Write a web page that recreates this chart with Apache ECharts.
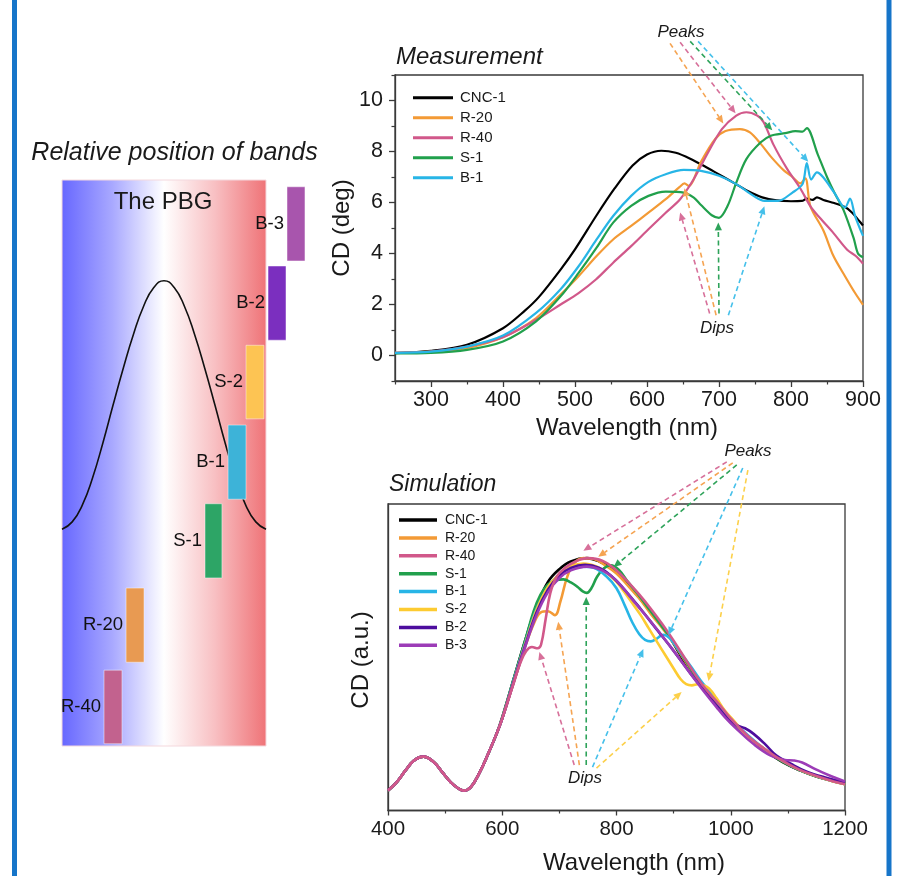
<!DOCTYPE html>
<html>
<head>
<meta charset="utf-8">
<script src="https://cdn.jsdelivr.net/npm/echarts@6/dist/echarts.min.js"></script>
<style>html,body{margin:0;padding:0;background:#fff}#c{width:900px;height:876px}</style>
</head>
<body>
<div id="c"></div>
<script>
// ---------- Left panel: relative band positions ----------
const pbgX = [0,0.05,0.1,0.15,0.2,0.25,0.3,0.35,0.4,0.45,0.5,0.55,0.6,0.65,0.7,0.75,0.8,0.85,0.9,0.95,1.0];
const pbgY = [0.383,0.396,0.426,0.474,0.535,0.602,0.667,0.727,0.777,0.810,0.822,0.810,0.777,0.727,0.667,0.602,0.535,0.474,0.426,0.396,0.383];
const bandNames  = ['R-40','R-20','S-1','B-1','S-2','B-2','B-3'];
const bandLeft   = [0.206,0.314,0.701,0.814,0.902,1.010,1.103];
const bandRight  = [0.294,0.402,0.784,0.902,0.990,1.098,1.191];
const bandBottom = [0.004,0.148,0.297,0.436,0.578,0.717,0.857];
const bandTop    = [0.134,0.279,0.428,0.567,0.708,0.848,0.988];

// ---------- Measurement (top right) ----------
const measNames = ['CNC-1','R-20','R-40','S-1','B-1'];
const measCNC1 = [[250,0.09],[300,0.18],[350,0.42],[400,1.07],[430,1.75],[450,2.3],[480,3.37],[500,4.16],[530,5.5],[555,6.55],[580,7.45],[600,7.88],[620,8.03],[640,7.95],[660,7.72],[680,7.42],[700,7.1],[720,6.78],[740,6.45],[760,6.2],[780,6.08],[800,6.05],[815,6.06],[822,6.15],[830,6.1],[836,6.2],[845,6.1],[860,5.98],[875,5.82],[885,5.6],[894,5.3],[900,5.1]];
const measR20 = [[250,0.1],[300,0.15],[350,0.3],[400,0.72],[446,1.47],[480,2.39],[505,3.11],[530,3.9],[553,4.55],[578,5.08],[602,5.6],[626,6.13],[645,6.6],[652,6.75],[658,6.65],[675,7.6],[695,8.5],[709,8.8],[729,8.88],[743,8.75],[758,8.3],[772,7.8],[790,7.26],[802,7.0],[813,6.75],[820,6.95],[827,5.85],[845,4.9],[859,3.9],[875,3.11],[889,2.45],[900,1.99]];
const measR40 = [[250,0.1],[300,0.15],[350,0.35],[400,0.72],[446,1.4],[480,2.0],[505,2.45],[529,2.98],[553,3.64],[578,4.29],[602,4.95],[626,5.6],[646,6.13],[665,6.92],[685,7.97],[704,8.88],[724,9.41],[738,9.54],[753,9.41],[762,9.15],[776,8.25],[795,7.3],[813,6.55],[827,5.85],[840,5.4],[859,4.8],[878,4.15],[890,3.9],[900,3.6]];
const measS1 = [[250,0.08],[300,0.1],[350,0.22],[400,0.55],[446,1.34],[480,2.32],[505,3.24],[530,4.23],[553,5.21],[578,5.87],[602,6.26],[626,6.43],[651,6.39],[665,6.19],[675,5.9],[690,5.5],[700,5.4],[712,5.87],[724,6.78],[738,7.7],[758,8.36],[772,8.62],[792,8.72],[806,8.8],[816,8.78],[822,8.92],[837,7.9],[850,7.0],[860,6.4],[873,5.7],[887,4.6],[893,4.0],[900,3.85]];
const measB1 = [[250,0.1],[300,0.15],[350,0.35],[400,0.78],[446,1.67],[480,2.6],[505,3.5],[530,4.55],[553,5.47],[578,6.26],[602,6.81],[626,7.11],[651,7.28],[675,7.24],[700,7.05],[724,6.72],[748,6.26],[763,6.06],[782,6.06],[802,6.39],[816,6.72],[822,7.55],[828,6.9],[836,7.18],[845,6.98],[860,6.39],[875,5.8],[882,6.15],[889,5.47],[900,4.69]];
const measXLabels = [300,400,500,600,700,800,900];
const measXMinor  = [250,350,450,550,650,750,850];
const measYLabels = [0,2,4,6,8,10];
const measYMinor  = [-1,1,3,5,7,9,11];
// annotation arrows (from -> to, data units)
const measArrowName = ['R-20','R-40','S-1','B-1','R-40','R-20','S-1','B-1'];
const measArrowX0 = [632,646,660,671,687,696,700,713];
const measArrowY0 = [12.24,12.28,12.32,12.32,1.65,1.58,1.65,1.58];
const measArrowX1 = [706,723,774,824,646,652,699,763];
const measArrowY1 = [9.1,9.5,8.83,7.6,5.61,6.56,5.22,5.85];

// ---------- Simulation (bottom right) ----------
const simNames = ['CNC-1','R-20','R-40','S-1','B-1','S-2','B-2','B-3'];
const simLow = [[400,0.078],[415,0.11],[430,0.155],[445,0.195],[462,0.211],[480,0.19],[495,0.15],[510,0.11],[522,0.088],[532,0.078],[545,0.092],[560,0.147],[575,0.22],[590,0.30]];
const simCNC1 = [[600,0.365],[620,0.515],[640,0.665],[660,0.80],[680,0.895],[700,0.945],[720,0.975],[748,0.988],[770,0.975],[790,0.95],[810,0.91],[830,0.86],[850,0.805],[870,0.75],[890,0.69],[910,0.615],[930,0.54],[950,0.48],[970,0.43],[1000,0.35],[1030,0.285],[1060,0.235],[1090,0.19],[1120,0.158],[1150,0.133],[1180,0.115],[1200,0.105]];
const simR20 = [[600,0.36],[620,0.50],[640,0.64],[655,0.73],[667,0.775],[680,0.78],[692,0.765],[702,0.82],[713,0.91],[725,0.965],[742,0.988],[760,0.985],[780,0.96],[800,0.928],[820,0.88],[840,0.83],[860,0.77],[880,0.715],[900,0.655],[920,0.585],[940,0.515],[960,0.46],[980,0.41],[1000,0.355],[1030,0.29],[1060,0.238],[1090,0.193],[1120,0.16],[1150,0.135],[1180,0.115],[1200,0.104]];
const simR40 = [[600,0.36],[620,0.50],[632,0.58],[642,0.625],[652,0.64],[662,0.635],[668,0.65],[676,0.75],[684,0.85],[695,0.915],[710,0.95],[728,0.975],[750,0.988],[775,0.978],[800,0.94],[820,0.895],[840,0.845],[860,0.79],[880,0.73],[900,0.665],[920,0.595],[940,0.525],[960,0.465],[980,0.415],[1000,0.36],[1030,0.292],[1060,0.24],[1090,0.195],[1120,0.16],[1150,0.135],[1180,0.114],[1200,0.103]];
const simS1 = [[600,0.365],[620,0.515],[640,0.665],[655,0.78],[667,0.845],[680,0.885],[692,0.9],[707,0.905],[720,0.893],[732,0.875],[741,0.858],[748,0.852],[756,0.87],[766,0.915],[778,0.948],[790,0.96],[805,0.94],[820,0.895],[840,0.84],[860,0.78],[880,0.72],[900,0.66],[920,0.59],[940,0.52],[960,0.465],[980,0.415],[1000,0.357],[1030,0.29],[1060,0.237],[1090,0.192],[1120,0.158],[1150,0.133],[1180,0.114],[1200,0.103]];
const simB1 = [[600,0.36],[620,0.51],[640,0.655],[660,0.79],[680,0.875],[700,0.925],[720,0.948],[742,0.955],[760,0.95],[783,0.915],[800,0.87],[815,0.8],[828,0.735],[840,0.69],[850,0.668],[860,0.662],[870,0.672],[882,0.688],[893,0.675],[905,0.64],[918,0.6],[930,0.565],[947,0.51],[965,0.46],[985,0.40],[1000,0.36],[1030,0.295],[1060,0.24],[1090,0.195],[1120,0.16],[1150,0.135],[1180,0.115],[1200,0.104]];
const simS2 = [[600,0.36],[620,0.505],[640,0.65],[660,0.785],[680,0.875],[700,0.925],[720,0.955],[742,0.967],[765,0.955],[783,0.93],[800,0.895],[812,0.86],[825,0.82],[842,0.766],[856,0.715],[871,0.66],[885,0.61],[900,0.556],[912,0.515],[922,0.495],[932,0.49],[942,0.494],[952,0.49],[962,0.478],[975,0.44],[990,0.39],[1006,0.35],[1029,0.29],[1060,0.24],[1090,0.196],[1120,0.16],[1150,0.135],[1180,0.114],[1200,0.103]];
const simB2 = [[600,0.36],[620,0.505],[640,0.645],[660,0.775],[680,0.865],[700,0.92],[720,0.95],[745,0.962],[770,0.95],[790,0.92],[810,0.875],[842,0.79],[870,0.71],[900,0.625],[930,0.535],[959,0.455],[985,0.385],[1000,0.35],[1012,0.332],[1025,0.322],[1040,0.30],[1060,0.26],[1080,0.215],[1105,0.183],[1130,0.155],[1164,0.13],[1200,0.11]];
const simB3 = [[600,0.36],[620,0.50],[640,0.64],[660,0.765],[680,0.855],[700,0.91],[720,0.94],[748,0.955],[775,0.94],[800,0.9],[830,0.82],[860,0.74],[890,0.655],[920,0.565],[950,0.475],[975,0.405],[990,0.365],[1010,0.32],[1040,0.26],[1070,0.215],[1095,0.198],[1110,0.196],[1125,0.188],[1150,0.16],[1175,0.135],[1200,0.114]];
const simXLabels = [400,600,800,1000,1200];
const simArrowName = ['R-40','R-20','S-1','B-1','S-2','R-40','R-20','S-1','B-1','S-2'];
const simArrowX0 = [993,1003.5,1010.5,1021,1030,726,735,747,758,765];
const simArrowY0 = [1.365,1.361,1.353,1.341,1.333,0.178,0.178,0.178,0.17,0.166];
const simArrowX1 = [742,768,795,891,961,665,698,747,847,914];
const simArrowY1 = [1.017,0.993,0.953,0.687,0.507,0.621,0.739,0.836,0.632,0.464];

// ---------- styles ----------
const FONT = '"Liberation Sans", Arial, Helvetica, sans-serif';
const lineColor = {'CNC-1':'#000000','R-20':'#f39a35','R-40':'#d1588a','S-1':'#21a04c','B-1':'#27b5e6','S-2':'#fdcb31','B-2':'#4d0d9e','B-3':'#9c3cb7'};
const arrowColor = {'R-20':'#f5a452','R-40':'#d7709a','S-1':'#2ea35a','B-1':'#45c0ea','S-2':'#fcd04a'};
const bandColor = {'R-40':'#c2628e','R-20':'#e89a52','S-1':'#2da566','B-1':'#3db3d8','S-2':'#fdc453','B-2':'#7b2fbf','B-3':'#a855ad'};
const axisCol = '#3a3a3a';

const chart = echarts.init(document.getElementById('c'), null, {renderer:'canvas', width:900, height:876});

function arrowRender(names) {
  return function(params, api) {
    const a = api.coord([api.value(0), api.value(1)]);
    const b = api.coord([api.value(2), api.value(3)]);
    const col = arrowColor[names[params.dataIndex]];
    const dx = b[0]-a[0], dy = b[1]-a[1], L = Math.hypot(dx, dy);
    const ux = dx/L, uy = dy/L, hl = 8, hw = 3.6;
    const bx = b[0]-ux*hl, by = b[1]-uy*hl;
    return {type:'group', children:[
      {type:'line', shape:{x1:a[0], y1:a[1], x2:bx, y2:by}, style:{stroke:col, lineWidth:1.6, lineDash:[5,3.5]}},
      {type:'polygon', shape:{points:[[b[0],b[1]],[bx-uy*hw, by+ux*hw],[bx+uy*hw, by-ux*hw]]}, style:{fill:col}}
    ]};
  };
}

const measSeriesData = [measCNC1, measR20, measR40, measS1, measB1];
const simSeriesData = [simLow.concat(simCNC1), simLow.concat(simR20), simLow.concat(simR40), simLow.concat(simS1),
                       simLow.concat(simB1), simLow.concat(simS2), simLow.concat(simB2), simLow.concat(simB3)];

const series = [];
series.push({type:'line', xAxisIndex:0, yAxisIndex:0, data:pbgX.map((x,i)=>[x,pbgY[i]]), smooth:0.5, symbol:'none',
  lineStyle:{color:'#111', width:1.6}, silent:true, z:2});
series.push({type:'custom', xAxisIndex:0, yAxisIndex:0, clip:false, z:3,
  data: bandNames.map((n,i)=>[bandLeft[i], bandRight[i], bandBottom[i], bandTop[i]]),
  encode:{x:[0,1], y:[2,3]},
  renderItem:function(params, api){
    const n = bandNames[params.dataIndex];
    const p0 = api.coord([api.value(0), api.value(3)]);
    const p1 = api.coord([api.value(1), api.value(2)]);
    return {type:'group', children:[
      {type:'rect', shape:{x:p0[0], y:p0[1], width:p1[0]-p0[0], height:p1[1]-p0[1]}, style:{fill:bandColor[n], stroke:'rgba(255,255,255,0.45)', lineWidth:1}},
      {type:'text', style:{text:n, x:p0[0]-3, y:(p0[1]+p1[1])/2, align:'right', verticalAlign:'middle', font:'18.5px '+FONT, fill:'#111'}}
    ]};
  }});
measNames.forEach((n,i)=>{
  series.push({type:'line', name:n, xAxisIndex:1, yAxisIndex:1, data:measSeriesData[i], smooth:0.3, symbol:'none', showSymbol:false,
    lineStyle:{color:lineColor[n], width:2.2}, itemStyle:{color:lineColor[n]}, z:4});
});
series.push({type:'custom', xAxisIndex:1, yAxisIndex:1, clip:false, z:6,
  data: measArrowName.map((n,i)=>[measArrowX0[i], measArrowY0[i], measArrowX1[i], measArrowY1[i]]),
  encode:{x:[0,2], y:[1,3]}, renderItem: arrowRender(measArrowName)});
simNames.forEach((n,i)=>{
  series.push({type:'line', name:n+' (sim)', xAxisIndex:3, yAxisIndex:3, data:simSeriesData[i], smooth:0.4, symbol:'none', showSymbol:false,
    lineStyle:{color:lineColor[n], width:2.6}, itemStyle:{color:lineColor[n]}, z:(n==='R-40'?5:4)});
});
series.push({type:'custom', xAxisIndex:3, yAxisIndex:3, clip:false, z:6,
  data: simArrowName.map((n,i)=>[simArrowX0[i], simArrowY0[i], simArrowX1[i], simArrowY1[i]]),
  encode:{x:[0,2], y:[1,3]}, renderItem: arrowRender(simArrowName)});

function txt(text, x, y, size, opts) {
  opts = opts || {};
  return {type:'text', x:x, y:y, rotation:opts.rot||0, z:50,
    style:{text:text, x:0, y:0, align:opts.align||'center', verticalAlign:'middle',
      font:(opts.italic?'italic ':'')+size+'px '+FONT, fill:opts.fill||'#1a1a1a'}};
}

const option = {
  animation:false,
  backgroundColor:'#ffffff',
  grid:[
    {left:62, top:180, width:204, height:566, show:true, borderWidth:1, borderColor:'#f4d8dd',
     backgroundColor:{type:'linear', x:0, y:0, x2:1, y2:0, colorStops:[
       {offset:0, color:'#6767ff'},{offset:0.25, color:'#a9a9ff'},{offset:0.5, color:'#ffffff'},{offset:0.75, color:'#f8bfc2'},{offset:1, color:'#ef7377'}]}},
    {left:395, top:75, width:468, height:306, show:true, borderWidth:1.3, borderColor:axisCol},
    {left:388, top:504, width:457, height:306.5, show:true, borderWidth:1.3, borderColor:axisCol}
  ],
  xAxis:[
    {gridIndex:0, type:'value', min:0, max:1, show:false},
    {gridIndex:1, type:'value', min:250, max:900, interval:50, position:'bottom',
     axisLine:{onZero:false, lineStyle:{color:axisCol, width:1.3}},
     axisTick:{customValues:measXLabels, length:6, lineStyle:{color:axisCol, width:1.3}},
     axisLabel:{customValues:measXLabels, fontSize:21.5, fontFamily:FONT, color:'#1a1a1a', margin:8, lineHeight:22,
       formatter:function(v){return String(v);}},
     splitLine:{show:false}},
    {gridIndex:1, type:'value', min:250, max:900, interval:50, position:'bottom',
     axisLine:{show:false, onZero:false},
     axisTick:{customValues:measXMinor, length:3.5, lineStyle:{color:axisCol, width:1.2}},
     axisLabel:{show:false}, splitLine:{show:false}},
    {gridIndex:2, type:'value', min:400, max:1200, interval:200, position:'bottom',
     axisLine:{onZero:false, lineStyle:{color:axisCol, width:1.3}},
     axisTick:{length:5, lineStyle:{color:axisCol, width:1.3}},
     minorTick:{show:true, splitNumber:2, length:3, lineStyle:{color:axisCol, width:1.2}},
     axisLabel:{customValues:simXLabels, fontSize:20.5, fontFamily:FONT, color:'#1a1a1a', margin:8.5, lineHeight:21,
       formatter:function(v){return String(v);}},
     splitLine:{show:false}}
  ],
  yAxis:[
    {gridIndex:0, type:'value', min:0, max:1, show:false},
    {gridIndex:1, type:'value', min:-1, max:11, interval:1, position:'left',
     axisLine:{onZero:false, lineStyle:{color:axisCol, width:1.3}},
     axisTick:{customValues:measYLabels, length:6, lineStyle:{color:axisCol, width:1.3}},
     axisLabel:{customValues:measYLabels, fontSize:21.5, fontFamily:FONT, color:'#1a1a1a', margin:12,
       formatter:function(v){return String(v);}},
     splitLine:{show:false}},
    {gridIndex:1, type:'value', min:-1, max:11, interval:1, position:'left',
     axisLine:{show:false, onZero:false},
     axisTick:{customValues:measYMinor, length:3.5, lineStyle:{color:axisCol, width:1.2}},
     axisLabel:{show:false}, splitLine:{show:false}},
    {gridIndex:2, type:'value', min:0, max:1.2, position:'left',
     axisLine:{onZero:false, lineStyle:{color:axisCol, width:1.3}},
     axisTick:{show:false}, axisLabel:{show:false}, splitLine:{show:false}}
  ],
  legend:[
    {data:measNames, orient:'vertical', left:413, top:90.2, padding:0, icon:'rect', itemWidth:40, itemHeight:3, itemGap:5,
     selectedMode:false, textStyle:{fontSize:15, fontFamily:FONT, color:'#1a1a1a', padding:[0,0,0,2]}},
    {data:simNames.map(n=>n+' (sim)'), orient:'vertical', left:399, top:513, padding:0, icon:'rect', itemWidth:38, itemHeight:3.5, itemGap:3.9,
     selectedMode:false, formatter:function(name){return name.replace(' (sim)','');},
     textStyle:{fontSize:14, fontFamily:FONT, color:'#1a1a1a', padding:[0,0,0,3]}}
  ],
  graphic:[
    {type:'line', shape:{x1:14.5, y1:0, x2:14.5, y2:876}, style:{stroke:'#1675c9', lineWidth:5}, z:60},
    {type:'line', shape:{x1:889, y1:0, x2:889, y2:876}, style:{stroke:'#1675c9', lineWidth:5}, z:60},
    txt('Relative position of bands', 174.5, 153, 25, {italic:true}),
    txt('The PBG', 163, 202, 24),
    txt('Measurement', 396, 57, 24, {italic:true, align:'left'}),
    txt('Simulation', 389, 485, 23, {italic:true, align:'left'}),
    txt('CD (deg)', 342, 228, 24, {rot:Math.PI/2}),
    txt('Wavelength (nm)', 627, 428, 24),
    txt('CD (a.u.)', 361, 660, 24, {rot:Math.PI/2}),
    txt('Wavelength (nm)', 634, 863, 24),
    txt('Peaks', 681, 32, 17, {italic:true}),
    txt('Dips', 717, 328, 17, {italic:true}),
    txt('Peaks', 748, 451, 17, {italic:true}),
    txt('Dips', 585, 778, 17, {italic:true})
  ],
  series:series
};
chart.setOption(option);
</script>
</body>
</html>
